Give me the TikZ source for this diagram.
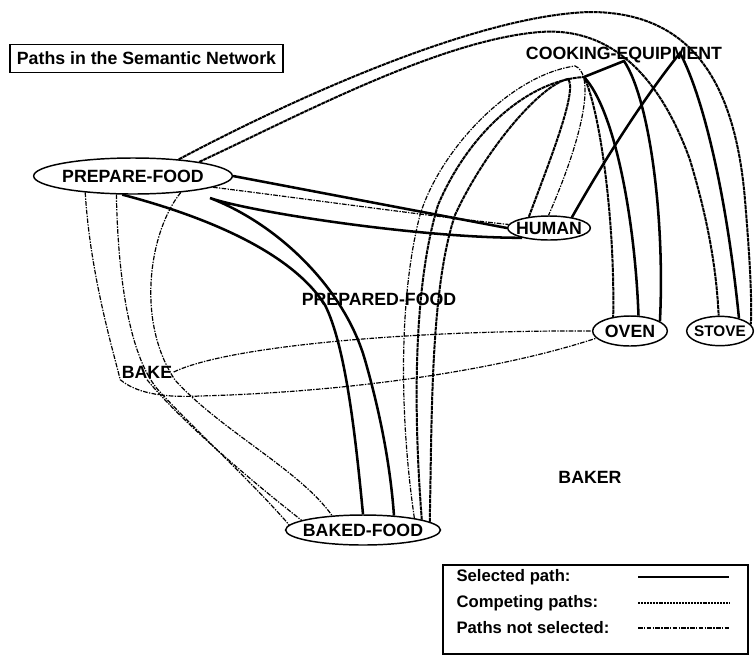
\documentclass[tikz,border=0pt]{standalone}
\usepackage{fontspec}
\setmainfont{Liberation Sans}
\usetikzlibrary{shapes.geometric}
\def\lbl{\fontsize{13.3}{15}\selectfont\bfseries}
\def\keylbl{\fontsize{12.5}{14}\selectfont\bfseries}
\tikzset{
  concept/.style={ellipse, draw, line width=1.1pt, inner xsep=-4pt, inner ysep=0.5pt, font=\lbl},
  textlbl/.style={inner sep=1pt, font=\lbl},
  selpath/.style={line width=1.9pt},
  comppath/.style={line width=1.5pt, dash pattern=on 3pt off 0.5pt},
  notsel/.style={line width=0.9pt, dash pattern=on 3.5pt off 1pt on 1pt off 1pt},
}

\begin{document}
\begin{tikzpicture}[x=0.75pt, y=-0.75pt]
			%%%%% START %%%%%
			\useasboundingbox (0,0) rectangle (755,657);
			
			\node[draw, line width=1.2pt, minimum width=205pt, minimum height=21pt, inner sep=2pt, font=\lbl] (title) at (146.5,58.5) {Paths in the Semantic Network};
			
			\node[concept, minimum width=149pt, minimum height=27pt] (pf) at (133,176) {PREPARE-FOOD};
			\node[textlbl] (ce) at (624,55) {COOKING-EQUIPMENT};
			\node[concept, minimum width=62pt, minimum height=18pt] (human) at (549,228) {HUMAN};
			\node[textlbl] (pdf) at (379,299) {PREPARED-FOOD};
			\node[concept, minimum width=56pt, minimum height=22.5pt] (oven) at (630,331) {OVEN};
			\node[concept, minimum width=50pt, minimum height=22pt, font=\fontsize{11.5}{13}\selectfont\bfseries] (stove) at (720,331) {STOVE};
			\node[textlbl] (bake) at (147,372) {BAKE};
			\node[textlbl] (baker) at (590,477) {BAKER};
			\node[concept, minimum width=116pt, minimum height=22.5pt] (bf) at (363,530) {BAKED-FOOD};
			
			\coordinate (tip) at (210,198);
			\coordinate (ceJ) at (584,77);
			\coordinate (ceT) at (568,79);
			\coordinate (ceE) at (624,61);
			\coordinate (ceM) at (680,53);
			
			% long arcs over the top
			\draw[comppath] (pf.20) .. controls (300,95) and (480,15) .. (590,12)
				.. controls (690,12) and (735,80) .. (745,200)
				.. controls (750,260) and (752,300) .. (stove.12);
			\draw[comppath] (pf.12) .. controls (300,115) and (440,40) .. (540,32)
				.. controls (620,26) and (665,90) .. (690,160)
				.. controls (705,210) and (716,260) .. (stove.95);
			
			% human and cooking equipment
			\draw[selpath] (pf.east) -- (human.west);
			\draw[selpath] (human.25) .. controls (610,150) and (650,90) .. (ceM)
				.. controls (700,90) and (725,180) .. (stove.34);
			\draw[selpath] (ceJ) .. controls (615,110) and (635,220) .. (oven.61);
			\draw[selpath] (ceJ) -- (ceE) .. controls (650,100) and (665,220) .. (oven.18);
			
			% up from baked-food
			\draw[notsel] (bf.13) .. controls (400,420) and (398,300) .. (420,215)
				.. controls (440,150) and (510,75) .. (575,66)
				.. controls (592,72) and (590,120) .. (human.92);
			\draw[comppath] (bf.10) .. controls (414,420) and (412,290) .. (438,205)
				.. controls (470,130) and (530,80) .. (ceJ)
				.. controls (600,110) and (615,220) .. (oven.140);
			\draw[comppath] (bf.7) .. controls (432,420) and (430,290) .. (455,215)
				.. controls (485,150) and (540,85) .. (ceT)
				.. controls (578,90) and (550,160) .. (human.151);
			
			% prepare-food down to baked-food
			\draw[selpath] (human.-160) .. controls (420,238) and (250,212) .. (tip)
				.. controls (280,225) and (345,290) .. (365,360)
				.. controls (378,405) and (390,460) .. (bf.25);
			\draw[selpath] (pf.-120) .. controls (200,215) and (290,250) .. (325,305)
				.. controls (345,345) and (355,430) .. (bf.north);
			\draw[notsel] (pf.-8) .. controls (300,198) and (420,215) .. (human.175);
			
			% bake
			\draw[notsel] (pf.-161) .. controls (90,270) and (110,340) .. (bake.south west)
				.. controls (135,392) and (160,398) .. (200,396)
				.. controls (350,392) and (500,370) .. (oven.-168);
			\draw[notsel] (bake.east) .. controls (230,345) and (420,330) .. (oven.west);
			\draw[notsel] (pf.-132) .. controls (118,280) and (130,360) .. (160,392)
				.. controls (200,435) and (250,480) .. (bf.176);
			\draw[notsel] (pf.-19) .. controls (150,230) and (135,320) .. (175,380)
				.. controls (220,430) and (300,470) .. (bf.155);
			\draw[notsel] (bake.south) .. controls (180,420) and (250,480) .. (bf.171);
			
			% legend
			\draw[line width=1.2pt] (443,565) rectangle (748,654);
			\node[textlbl, font=\keylbl, anchor=west] (lsel) at (455,577) {Selected path:};
			\node[textlbl, font=\keylbl, anchor=west] (lcomp) at (455,603) {Competing paths:};
			\node[textlbl, font=\keylbl, anchor=west] (lnot) at (455,628) {Paths not selected:};
			\draw[selpath] (638,577) -- (729,577);
			\draw[comppath, line width=1pt, dash pattern=on 1.5pt off 0.7pt] (638,603) -- (729,603);
			\draw[notsel] (638,628) -- (729,628);
			%%%%% END %%%%%
\end{tikzpicture}
\end{document}
